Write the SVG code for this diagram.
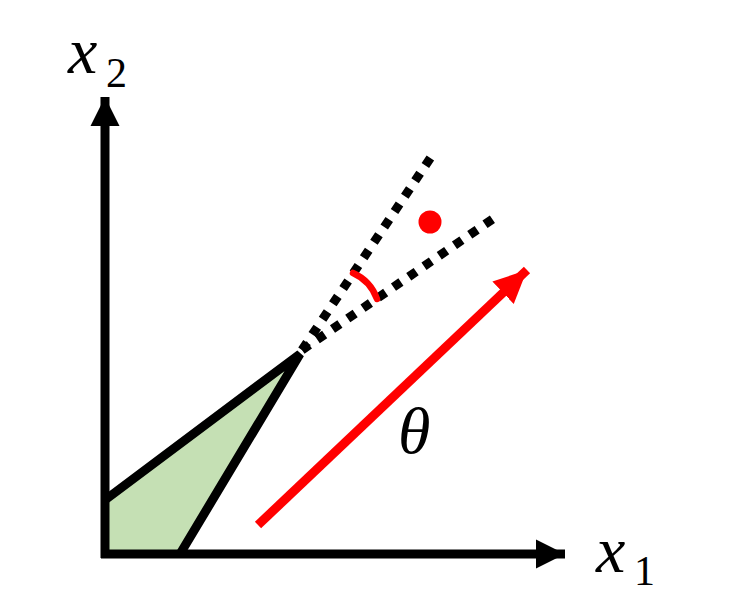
<svg xmlns="http://www.w3.org/2000/svg" width="731" height="602" viewBox="0 0 731 602">
<defs>
<style>
.ax{stroke:#000;stroke-width:9;fill:none}
.edge{stroke:#000;stroke-width:9;fill:none;stroke-linejoin:miter}
.dash{stroke:#000;stroke-width:9;fill:none;stroke-dasharray:9 9.5}
.red{stroke:#FF0000;fill:none}
.lbl{font-family:"Liberation Serif",serif;font-style:italic;fill:#000}
.sub{font-family:"Liberation Serif",serif;font-style:normal;fill:#000}
</style>
<marker id="blk" markerUnits="userSpaceOnUse" markerWidth="32" markerHeight="32" viewBox="0 0 32 32" refX="29" refY="16" orient="auto">
<path d="M0,1.5 L29,16 L0,30.5 Z" fill="#000"/>
</marker>
<marker id="redh" markerUnits="userSpaceOnUse" markerWidth="36" markerHeight="36" viewBox="0 0 36 36" refX="33" refY="18" orient="auto">
<path d="M0,2.5 L33,18 L0,33.5 Z" fill="#FF0000"/>
</marker>
</defs>
<rect width="731" height="602" fill="#fff"/>
<g id="region">
<polygon points="105,500 300,354 180,554 105,554" fill="#C5E0B4"/>
<polyline class="edge" points="105,500 300,354 180,554"/>
</g>
<g id="connectors">
<line class="ax" x1="105" y1="558" x2="105" y2="97" marker-end="url(#blk)"/>
<line class="ax" x1="101" y1="554" x2="565" y2="554" marker-end="url(#blk)"/>
<line class="dash" x1="302" y1="350" x2="431" y2="157"/>
<line class="dash" x1="302" y1="350" x2="500" y2="214"/>
<line class="red" stroke-width="9" x1="258" y1="525" x2="527" y2="270" marker-end="url(#redh)"/>
<path class="red" stroke-width="6.5" stroke-linecap="round" d="M353,273 A45,45 0 0 1 377,299"/>
</g>
<g id="point">
<circle cx="430" cy="222" r="11.5" fill="#FF0000"/>
</g>
<g id="labels">
<text class="lbl" x="68" y="73" font-size="66">x<tspan class="sub" x="106" y="87" font-size="42">2</tspan></text>
<text class="lbl" x="596" y="572" font-size="66">x<tspan class="sub" x="634" y="585" font-size="42">1</tspan></text>
<text class="lbl" x="398" y="453" font-size="66">θ</text>
</g>
</svg>
